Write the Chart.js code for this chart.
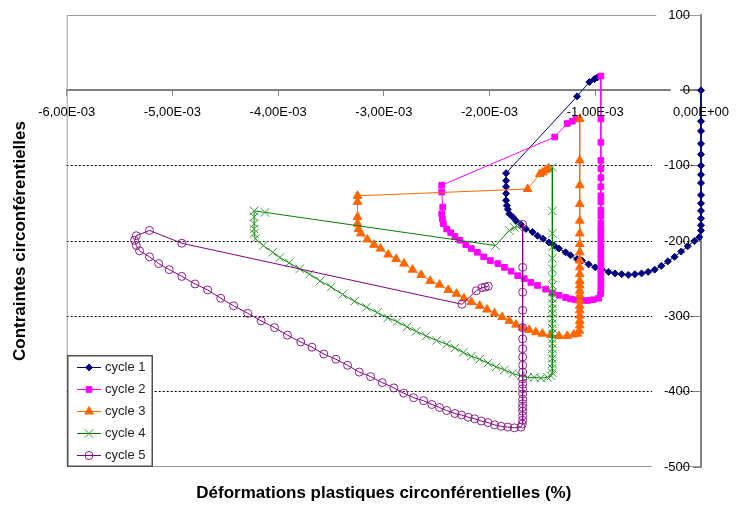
<!DOCTYPE html>
<html>
<head>
<meta charset="utf-8">
<script src="https://cdn.jsdelivr.net/npm/chart.js"></script>
<style>
  html, body { margin: 0; padding: 0; background: #fff; }
  #container { width: 738px; height: 507px; }
  canvas { display: block; }
</style>
</head>
<body>
<div id="container"><canvas id="chartcanvas" width="738" height="507"></canvas></div>
<script>
// strain values are written in units of 1E-03, stress in the chart's own unit
var STRAIN_UNIT = 1e-3;

var seriesNames = ['cycle 1', 'cycle 2', 'cycle 3', 'cycle 4', 'cycle 5'];

var xTickLabels = ['-6,00E-03', '-5,00E-03', '-4,00E-03', '-3,00E-03', '-2,00E-03', '-1,00E-03', '0,00E+00'];
var yTickLabels = ['-500', '-400', '-300', '-200', '-100', '0', '100'];

var xTitle = 'Déformations plastiques circonférentielles (%)';
var yTitle = 'Contraintes circonférentielles';

var cycle1 = [
    [0, 0], [0, -41], [0, -54], [0, -71], [0, -85], [0, -100], [0, -112], [0, -123], [0, -139],
    [0, -150], [0, -160], [0, -170], [0, -179], [0, -186], [-0.016, -195], [-0.063, -200],
    [-0.126, -207], [-0.187, -214], [-0.25, -221], [-0.313, -227], [-0.375, -233], [-0.438, -238],
    [-0.5, -241], [-0.562, -243], [-0.625, -244], [-0.688, -245], [-0.75, -244], [-0.813, -243],
    [-0.875, -241], [-0.937, -238], [-1.0, -235], [-1.063, -231], [-1.125, -226], [-1.172, -224],
    [-1.234, -219], [-1.281, -215], [-1.344, -210], [-1.391, -206], [-1.438, -202], [-1.494, -197],
    [-1.546, -193], [-1.593, -188], [-1.656, -184], [-1.703, -178], [-1.75, -173], [-1.781, -168],
    [-1.813, -164], [-1.828, -158], [-1.837, -153], [-1.844, -146], [-1.844, -137], [-1.844, -128],
    [-1.844, -120], [-1.844, -110], [-1.172, -8], [-1.056, 11], [-1.007, 15], [-0.981, 17]
];

var cycle2 = [
    [-0.947, 19], [-0.947, -38], [-0.947, -69], [-0.947, -93], [-0.947, -104], [-0.947, -116],
    [-0.947, -128], [-0.947, -140], [-0.947, -148], [-0.947, -159], [-0.947, -167], [-0.947, -176],
    [-0.947, -184], [-0.947, -190], [-0.947, -197], [-0.947, -203], [-0.947, -210], [-0.947, -217],
    [-0.947, -223], [-0.947, -230], [-0.947, -237], [-0.947, -243], [-0.947, -250], [-0.947, -257],
    [-0.947, -263], [-0.95, -270], [-0.969, -276], [-1.019, -278], [-1.075, -279], [-1.131, -279],
    [-1.187, -278], [-1.234, -277], [-1.281, -275], [-1.344, -272], [-1.406, -269], [-1.469, -264],
    [-1.546, -259], [-1.609, -255], [-1.672, -250], [-1.734, -246], [-1.797, -240], [-1.859, -235],
    [-1.921, -230], [-1.993, -226], [-2.056, -221], [-2.115, -215], [-2.172, -210], [-2.225, -205],
    [-2.281, -199], [-2.328, -194], [-2.368, -189], [-2.406, -184], [-2.437, -177], [-2.446, -171],
    [-2.453, -164], [-2.443, -155], [-2.453, -135], [-2.453, -126], [-1.384, -62], [-1.265, -44],
    [-1.218, -41], [-1.181, -38]
];

var cycle3 = [
    [-1.147, -38], [-1.147, -93], [-1.147, -126], [-1.147, -151], [-1.147, -173], [-1.147, -190],
    [-1.147, -204], [-1.147, -215], [-1.147, -226], [-1.147, -235], [-1.147, -244], [-1.147, -253],
    [-1.147, -259], [-1.147, -266], [-1.147, -272], [-1.147, -279], [-1.147, -286], [-1.147, -292],
    [-1.147, -299], [-1.147, -306], [-1.147, -312], [-1.15, -319], [-1.169, -323], [-1.203, -324],
    [-1.265, -326], [-1.344, -326], [-1.422, -325], [-1.5, -323], [-1.562, -321], [-1.625, -318],
    [-1.687, -315], [-1.75, -311], [-1.813, -306], [-1.881, -301], [-1.953, -296], [-2.024, -291],
    [-2.094, -286], [-2.172, -281], [-2.242, -276], [-2.312, -270], [-2.39, -265], [-2.474, -258],
    [-2.562, -253], [-2.647, -245], [-2.729, -238], [-2.809, -230], [-2.884, -224], [-2.959, -218],
    [-3.031, -210], [-3.093, -205], [-3.156, -198], [-3.218, -190], [-3.24, -184], [-3.249, -177],
    [-3.249, -168], [-3.249, -148], [-3.249, -140], [-1.64, -131], [-1.525, -111], [-1.497, -109],
    [-1.469, -106], [-1.443, -104]
];

var cycle4 = [
    [-1.406, -102], [-1.406, -160], [-1.406, -190], [-1.406, -208], [-1.406, -223], [-1.406, -237],
    [-1.406, -249], [-1.406, -259], [-1.406, -268], [-1.406, -276], [-1.406, -283], [-1.406, -290],
    [-1.406, -296], [-1.406, -303], [-1.406, -310], [-1.406, -316], [-1.406, -323], [-1.406, -330],
    [-1.406, -336], [-1.406, -343], [-1.406, -350], [-1.406, -356], [-1.406, -363], [-1.406, -369],
    [-1.406, -375], [-1.417, -379], [-1.453, -381], [-1.515, -382], [-1.578, -381], [-1.64, -381],
    [-1.703, -379], [-1.781, -376], [-1.859, -371], [-1.937, -367], [-2.015, -362], [-2.094, -357],
    [-2.172, -353], [-2.249, -348], [-2.328, -342], [-2.406, -337], [-2.5, -332], [-2.6, -326],
    [-2.694, -320], [-2.781, -314], [-2.874, -307], [-2.963, -302], [-3.062, -295], [-3.165, -288],
    [-3.277, -280], [-3.39, -271], [-3.498, -261], [-3.603, -253], [-3.702, -244], [-3.796, -237],
    [-3.896, -229], [-3.983, -222], [-4.052, -215], [-4.14, -206], [-4.215, -197], [-4.227, -190],
    [-4.227, -184], [-4.227, -177], [-4.227, -168], [-4.227, -160], [-4.124, -162], [-1.944, -206],
    [-1.813, -186], [-1.766, -182], [-1.734, -181]
];

var cycle5 = [
    [-1.687, -178], [-1.687, -235], [-1.687, -268], [-1.687, -292], [-1.687, -315], [-1.687, -330],
    [-1.687, -343], [-1.687, -354], [-1.687, -365], [-1.687, -374], [-1.687, -383], [-1.687, -390],
    [-1.687, -396], [-1.687, -403], [-1.687, -410], [-1.687, -416], [-1.687, -421], [-1.687, -426],
    [-1.687, -432], [-1.687, -438], [-1.691, -443], [-1.703, -447], [-1.766, -448], [-1.828, -447],
    [-1.89, -446], [-1.953, -444], [-2.015, -441], [-2.078, -439], [-2.141, -436], [-2.202, -434],
    [-2.265, -431], [-2.328, -429], [-2.406, -425], [-2.474, -421], [-2.546, -417], [-2.624, -412],
    [-2.718, -408], [-2.812, -402], [-2.905, -395], [-3.015, -388], [-3.125, -380], [-3.233, -374],
    [-3.343, -365], [-3.453, -357], [-3.568, -350], [-3.68, -341], [-3.786, -334], [-3.912, -325],
    [-4.034, -315], [-4.161, -306], [-4.287, -296], [-4.421, -286], [-4.543, -276], [-4.667, -265],
    [-4.786, -257], [-4.911, -247], [-5.03, -238], [-5.13, -230], [-5.217, -221], [-5.311, -213],
    [-5.342, -206], [-5.358, -199], [-5.342, -193], [-5.217, -186], [-4.911, -203], [-2.261, -284],
    [-2.125, -266], [-2.073, -262], [-2.04, -261], [-2.012, -260]
];

function toPoints(rows) {
    return rows.map(function (r) { return { x: r[0] * STRAIN_UNIT, y: r[1] }; });
}

Chart.defaults.font.family = '"Liberation Sans", Arial, sans-serif';
Chart.defaults.color = '#000';

// grey frame round the plot area (top, left, bottom); the right side is the y axis
var plotFrame = {
    id: 'plotFrame',
    beforeDatasetsDraw: function (chart) {
        var a = chart.chartArea, c = chart.ctx;
        c.save();
        c.strokeStyle = '#9a9a9a';
        c.lineWidth = 1;
        c.beginPath();
        c.moveTo(a.right, a.top + 0.5);
        c.lineTo(a.left + 0.5, a.top + 0.5);
        c.lineTo(a.left + 0.5, a.bottom - 0.5);
        c.lineTo(a.right, a.bottom - 0.5);
        c.stroke();
        c.restore();
    }
};

// the y axis sits at x = 0, Chart.js puts its labels right on the axis line:
// move them a little to the left so the tick marks stay visible
var yLabelGap = {
    id: 'yLabelGap',
    beforeDraw: function (chart) {
        var items = chart.scales.y.getLabelItems();
        if (items.shifted) return;
        items.forEach(function (it) {
            it.options.translation[0] -= 11;
            if (it.options.backdrop) it.options.backdrop.left -= 11;
        });
        items.shifted = true;
    }
};

// boxed legend in the lower left corner of the plot area, line + marker like the original
var boxLegend = {
    id: 'boxLegend',
    afterDraw: function (chart) {
        var a = chart.chartArea, c = chart.ctx;
        var sets = chart.data.datasets;
        var rowH = 22, w = 86, h = rowH * sets.length + 2;
        var x0 = Math.round(a.left), y0 = Math.round(a.bottom) - h;
        c.save();
        c.fillStyle = '#fff';
        c.fillRect(x0, y0, w, h);
        c.strokeStyle = '#505050';
        c.lineWidth = 1.5;
        c.strokeRect(x0 + 0.75, y0 + 0.75, w - 1.5, h - 1.5);
        c.font = '13px "Liberation Sans", Arial, sans-serif';
        c.textBaseline = 'middle';
        c.textAlign = 'left';
        sets.forEach(function (ds, i) {
            var y = y0 + 12 + i * rowH;
            c.strokeStyle = ds.borderColor;
            c.lineWidth = 1;
            c.beginPath();
            c.moveTo(x0 + 10, y + 0.5);
            c.lineTo(x0 + 34, y + 0.5);
            c.stroke();
            c.fillStyle = ds.pointBackgroundColor;
            c.strokeStyle = ds.pointBorderColor;
            Chart.helpers.drawPoint(c, {
                pointStyle: ds.pointStyle,
                radius: ds.pointRadius,
                borderWidth: ds.pointBorderWidth,
                rotation: 0
            }, x0 + 22, y + 0.5);
            c.fillStyle = '#222';
            c.fillText(ds.label, x0 + 38, y + 0.5);
        });
        c.restore();
    }
};

var styles = [
    { line: '#000080', point: '#000080', fill: '#000080', shape: 'rectRot', r: 3.5 },
    { line: '#ff00ff', point: '#ff00ff', fill: '#ff00ff', shape: 'rect', r: 4 },
    { line: '#ff6600', point: '#ff6600', fill: '#ff6600', shape: 'triangle', r: 5 },
    { line: '#008000', point: '#3a9a3a', fill: 'rgba(0,0,0,0)', shape: 'crossRot', r: 6 },
    { line: '#800080', point: '#8a208a', fill: 'rgba(0,0,0,0)', shape: 'circle', r: 4 }
];
var allCycles = [cycle1, cycle2, cycle3, cycle4, cycle5];

var datasets = allCycles.map(function (rows, i) {
    var s = styles[i];
    return {
        label: seriesNames[i],
        data: toPoints(rows),
        showLine: true,
        clip: false,
        borderColor: s.line,
        borderWidth: 1,
        pointStyle: s.shape,
        pointRadius: s.r,
        pointBorderWidth: 1,
        pointBorderColor: s.point,
        pointBackgroundColor: s.fill,
        tension: 0,
        order: allCycles.length - i
    };
});

var myChart = new Chart(document.getElementById('chartcanvas'), {
    type: 'scatter',
    data: { datasets: datasets },
    plugins: [plotFrame, yLabelGap, boxLegend],
    options: {
        responsive: false,
        animation: false,
        layout: { padding: { left: 0, right: 31, top: 15, bottom: 0 } },
        plugins: {
            legend: { display: false },
            tooltip: { enabled: false },
            title: {
                display: true,
                position: 'bottom',
                fullSize: false,
                text: xTitle,
                color: '#000',
                font: { size: 17, weight: 'bold' },
                padding: { top: 15.8, bottom: 3.8 }
            },
            subtitle: {
                display: true,
                position: 'left',
                fullSize: false,
                text: yTitle,
                color: '#000',
                font: { size: 17, weight: 'bold' },
                padding: { top: 9.8, bottom: 36.5 }
            }
        },
        scales: {
            x: {
                type: 'linear',
                position: { y: 0 },
                min: -0.006,
                max: 0,
                ticks: {
                    stepSize: 0.001,
                    color: '#000',
                    font: { size: 13 },
                    padding: 9,
                    maxRotation: 0,
                    z: 1,
                    callback: function (v, i) { return xTickLabels[i]; }
                },
                grid: { drawOnChartArea: false, drawTicks: true, tickLength: 5, tickColor: '#808080' },
                border: { display: true, color: '#808080', width: 2 }
            },
            y: {
                type: 'linear',
                position: { x: 0 },
                min: -500,
                max: 100,
                ticks: {
                    stepSize: 100,
                    color: '#000',
                    font: { size: 13 },
                    padding: 4,
                    z: 1,
                    showLabelBackdrop: true,
                    backdropColor: '#fff',
                    backdropPadding: { x: 1, y: 0 },
                    callback: function (v, i) { return yTickLabels[i]; }
                },
                grid: {
                    color: function (ctx) {
                        var v = ctx.tick ? ctx.tick.value : 0;
                        return (v < 0 && v > -500) ? '#000' : 'rgba(0,0,0,0)';
                    },
                    lineWidth: 1,
                    drawTicks: true,
                    tickLength: 7,
                    tickColor: '#808080'
                },
                border: { display: true, color: '#808080', width: 2, dash: [2, 2] }
            }
        }
    }
});
</script>
</body>
</html>
